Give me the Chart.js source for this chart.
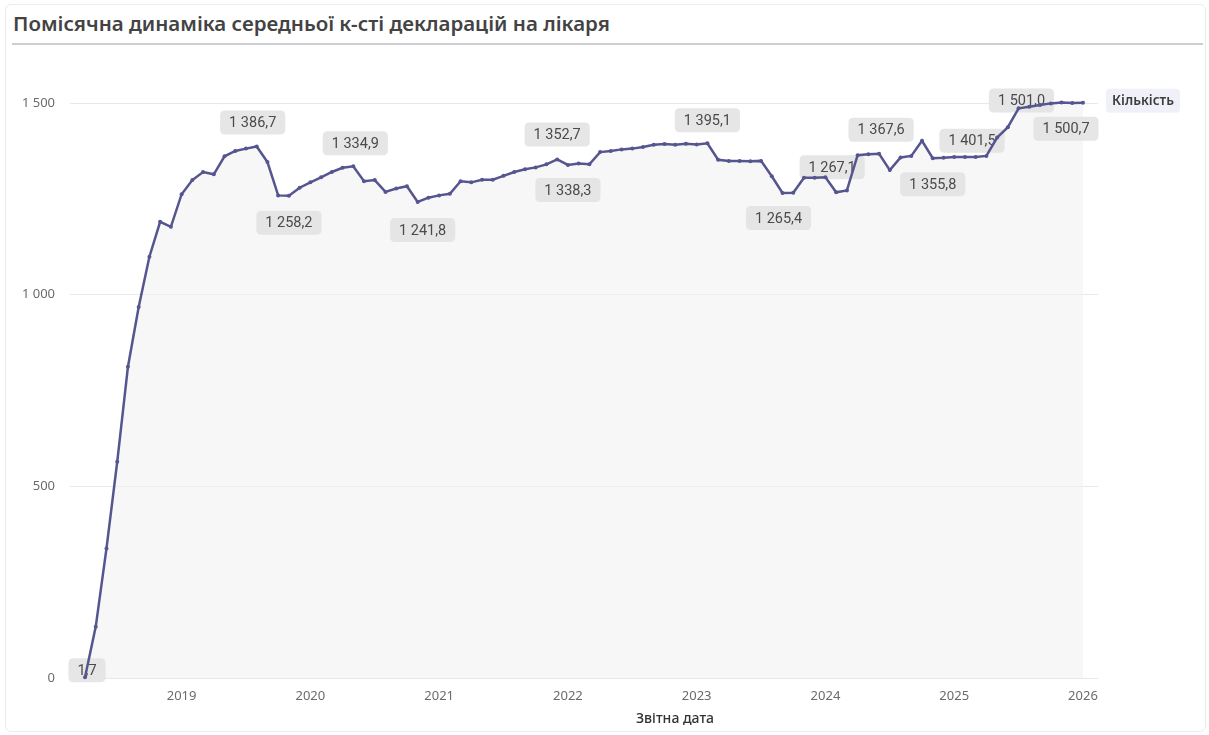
<!DOCTYPE html>
<html lang="uk">
<head>
<meta charset="utf-8">
<title>Помісячна динаміка</title>
<script src="https://cdn.jsdelivr.net/npm/chart.js@4.4.1/dist/chart.umd.min.js"></script>
<style>
    html, body { margin: 0; padding: 0; background: #ffffff; }
    body { width: 1209px; height: 735px; overflow: hidden; position: relative; font-family: "Noto Sans", sans-serif; }
    .card { position: absolute; left: 5px; top: 4px; right: 3px; bottom: 3px; border: 1px solid #ececee; border-radius: 6px; }
    .title { position: absolute; left: 13px; top: 9px; font-size: 20.5px; font-weight: 600; color: #434343; white-space: nowrap; }
    .title-rule { position: absolute; left: 12px; right: 6px; top: 43px; height: 2px; background: #cdced4; }
    .chart-box { position: absolute; left: 0; top: 0; width: 1209px; height: 735px; }
</style>
</head>
<body>
<div class="card"></div>
<div class="title">Помісячна динаміка середньої к-сті декларацій на лікаря</div>
<div class="title-rule"></div>
<div class="chart-box"><canvas id="chart"></canvas></div>

<script>
// ==================================================
// DATA
// ==================================================
const seriesName = "Кількість";
const xAxisTitle = "Звітна дата";
const startYear = 2018;
const startMonth = 4;

// average declarations per doctor, monthly from 2018-04 to 2026-01
const values = [
    1.7, 134, 338, 564, 812, 968, 1099, 1190, 1177,
    1262, 1299, 1320, 1314, 1361, 1375, 1381, 1386.7, 1346, 1259, 1258.2, 1279,
    1293, 1306, 1320, 1331, 1334.9, 1296, 1299, 1268, 1277, 1283, 1241.8, 1253,
    1259, 1263, 1296, 1293, 1300, 1300, 1310, 1320, 1327, 1332, 1340, 1352.7,
    1338.3, 1342, 1340, 1372, 1375, 1379, 1381, 1385, 1391, 1393, 1391, 1394,
    1392, 1395.1, 1352, 1349, 1349, 1348, 1349, 1309, 1265.4, 1266, 1305, 1305,
    1306, 1267.1, 1272, 1364, 1366, 1367.6, 1325, 1358, 1362, 1401.5, 1355.8, 1357,
    1359, 1359, 1359, 1362, 1410, 1437, 1486, 1490, 1495, 1499, 1501.0, 1500,
    1500.7
];

const yearTicks = ["2019", "2020", "2021", "2022", "2023", "2024", "2025", "2026"];
const yTicks = [0, 500, 1000, 1500];

// month keys for every value
const months = [];
for (let k = 0; k < values.length; k++) {
    const m = startMonth - 1 + k;
    const y = startYear + Math.floor(m / 12);
    months.push(y + "-" + String((m % 12) + 1).padStart(2, "0"));
}

// which points carry a data label, and where the box sits relative to the point
const labelPlacement = [
    { i: 0, dx: 2, dy: -7 },
    { i: 16, dx: -4, dy: -24 },
    { i: 19, dx: 0, dy: 27 },
    { i: 25, dx: 2, dy: -23 },
    { i: 31, dx: 5, dy: 28 },
    { i: 44, dx: 0, dy: -25 },
    { i: 45, dx: 0, dy: 25 },
    { i: 58, dx: 0, dy: -23 },
    { i: 65, dx: -4, dy: 25 },
    { i: 70, dx: -4, dy: -25 },
    { i: 74, dx: 2, dy: -24 },
    { i: 78, dx: 50, dy: 0 },
    { i: 79, dx: 0, dy: 26 },
    { i: 91, dx: -40, dy: -2 },
    { i: 93, dx: -17, dy: 26 }
];

// ==================================================
// HELPERS
// ==================================================
function groupThousands(intStr) {
    return intStr.replace(/\B(?=(\d{3})+(?!\d))/g, " ");
}

function formatValue(v) {
    const parts = v.toFixed(1).split(".");
    return groupThousands(parts[0]) + "," + parts[1];
}

function roundRect(ctx, x, y, w, h, r) {
    ctx.beginPath();
    ctx.moveTo(x + r, y);
    ctx.lineTo(x + w - r, y);
    ctx.quadraticCurveTo(x + w, y, x + w, y + r);
    ctx.lineTo(x + w, y + h - r);
    ctx.quadraticCurveTo(x + w, y + h, x + w - r, y + h);
    ctx.lineTo(x + r, y + h);
    ctx.quadraticCurveTo(x, y + h, x, y + h - r);
    ctx.lineTo(x, y + r);
    ctx.quadraticCurveTo(x, y, x + r, y);
    ctx.closePath();
}

const LINE_COLOR = "#55558f";
const LABEL_FONT = "14.5px Roboto, 'Noto Sans', sans-serif";

// ==================================================
// PLUGINS
// ==================================================
const dataLabels = {
    id: "dataLabels",
    beforeDatasetsDraw(chart) {
        const ctx = chart.ctx;
        const meta = chart.getDatasetMeta(0);
        ctx.save();
        ctx.font = LABEL_FONT;
        ctx.textAlign = "center";
        ctx.textBaseline = "middle";
        labelPlacement.forEach(p => {
            const pt = meta.data[p.i];
            if (!pt) return;
            const text = formatValue(values[p.i]);
            const w = ctx.measureText(text).width + 18;
            const h = 24;
            const cx = pt.x + p.dx;
            const cy = pt.y + p.dy;
            ctx.fillStyle = "rgba(228, 228, 228, 0.92)";
            roundRect(ctx, cx - w / 2, cy - h / 2, w, h, 5);
            ctx.fill();
            ctx.fillStyle = "#4a4a4a";
            ctx.fillText(text, cx, cy + 1);
        });
        ctx.restore();
    }
};

const seriesTag = {
    id: "seriesTag",
    afterDatasetsDraw(chart) {
        const ctx = chart.ctx;
        const meta = chart.getDatasetMeta(0);
        const last = meta.data[meta.data.length - 1];
        if (!last) return;
        ctx.save();
        ctx.font = "600 13.5px 'Noto Sans', sans-serif";
        ctx.textBaseline = "middle";
        const w = ctx.measureText(seriesName).width + 12;
        const x = chart.chartArea.right + 8;
        const y = last.y - 2;
        ctx.fillStyle = "#eff0f8";
        roundRect(ctx, x, y - 12, w, 24, 4);
        ctx.fill();
        ctx.fillStyle = "#3d3d3d";
        ctx.fillText(seriesName, x + 6, y);
        ctx.restore();
    }
};

// axis title drawn under the year ticks
const axisTitle = {
    id: "axisTitle",
    afterDraw(chart) {
        const ctx = chart.ctx;
        const area = chart.chartArea;
        ctx.save();
        ctx.font = "500 14px 'Noto Sans', sans-serif";
        ctx.fillStyle = "#333333";
        ctx.textAlign = "center";
        ctx.textBaseline = "middle";
        ctx.fillText(xAxisTitle, (area.left + area.right) / 2 + 91, area.bottom + 41);
        ctx.restore();
    }
};

// ==================================================
// CHART
// ==================================================
const points = values.map((v, k) => ({ x: k, y: v }));
const yearIndex = yearTicks.map(y => months.indexOf(y + "-01"));

const ctx = document.getElementById("chart").getContext("2d");
new Chart(ctx, {
    type: "line",
    data: {
        datasets: [{
            label: seriesName,
            data: points,
            borderColor: LINE_COLOR,
            borderWidth: 2.5,
            pointRadius: 2,
            pointBackgroundColor: LINE_COLOR,
            pointBorderWidth: 0,
            tension: 0,
            fill: "origin",
            backgroundColor: "rgba(240, 240, 240, 0.55)",
            clip: false
        }]
    },
    options: {
        responsive: true,
        maintainAspectRatio: false,
        animation: false,
        layout: { padding: { top: 57, right: 111, left: 0, bottom: 0 } },
        plugins: {
            legend: { display: false },
            tooltip: { enabled: false },
            filler: { drawTime: "beforeDatasetsDraw" }
        },
        scales: {
            x: {
                type: "linear",
                min: -1.4,
                max: 94.4,
                border: { display: false },
                grid: { display: false, drawTicks: false },
                afterBuildTicks: scale => {
                    scale.ticks = yearIndex.map(v => ({ value: v }));
                },
                afterFit: scale => { scale.height = 57; },
                ticks: {
                    autoSkip: false,
                    maxRotation: 0,
                    padding: 10,
                    color: "#6b6b6b",
                    font: { family: "'Noto Sans', sans-serif", size: 13 },
                    callback: v => {
                        const k = yearIndex.indexOf(v);
                        return k >= 0 ? yearTicks[k] : "";
                    }
                }
            },
            y: {
                min: 0,
                max: 1620,
                border: { display: false },
                grid: { color: "#e8e8e8", lineWidth: 1, drawTicks: false },
                afterBuildTicks: scale => {
                    scale.ticks = yTicks.map(v => ({ value: v }));
                },
                afterFit: scale => { scale.width = 70; },
                ticks: {
                    padding: 15,
                    color: "#6b6b6b",
                    font: { family: "'Noto Sans', sans-serif", size: 13 },
                    callback: v => groupThousands(String(v))
                }
            }
        }
    },
    plugins: [dataLabels, seriesTag, axisTitle]
});
</script>
</body>
</html>
